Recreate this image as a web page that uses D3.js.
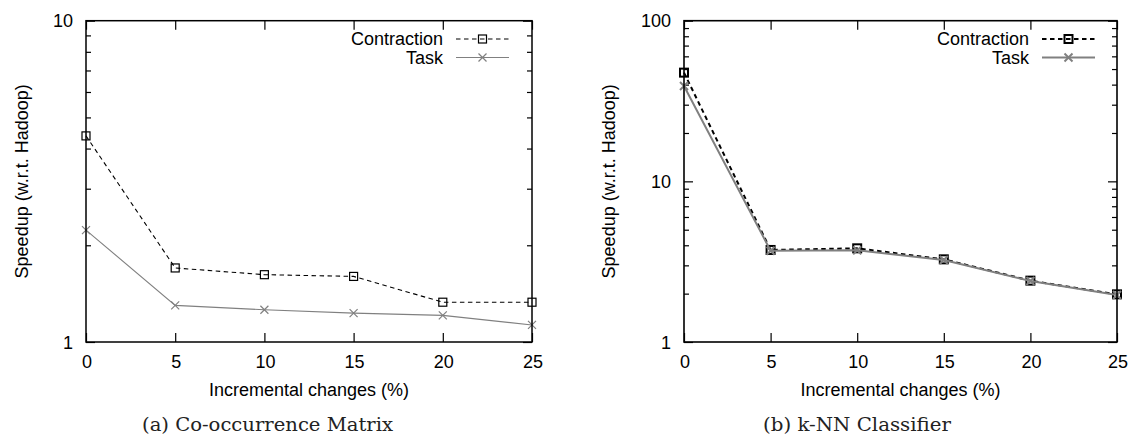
<!DOCTYPE html>
<html><head><meta charset="utf-8">
<script src="https://cdn.jsdelivr.net/npm/d3@7"></script>
<style>body{margin:0;background:#fff}svg{display:block}</style>
</head><body><svg id="c" width="1132" height="439"></svg>
<script>
// ---- data ----
const xValues = [0, 5, 10, 15, 20, 25];
const contractionA = [4.38, 1.70, 1.62, 1.60, 1.33, 1.33];
const taskA = [2.23, 1.30, 1.26, 1.23, 1.21, 1.13];
const contractionB = [47.5, 3.74, 3.83, 3.27, 2.41, 1.98];
const taskB = [39.2, 3.70, 3.72, 3.24, 2.40, 1.96];
const yTicksA = [1, 10];
const yTicksB = [1, 10, 100];
const xTicks = [0, 5, 10, 15, 20, 25];
const seriesNames = ["Contraction", "Task"];
const captions = ["(a) Co-occurrence Matrix", "(b) k-NN Classifier"];
const xTitle = "Incremental changes (%)";
const yTitle = "Speedup (w.r.t. Hadoop)";

// ---- layout ----
const panels = [
  {left: 86, right: 532, top: 20.7, bottom: 342, yMax: 10, yTicks: yTicksA,
   series: [contractionA, taskA], lw: 1.1, mlw: 1.2, frame: 1.5,
   legText: 443, legL: 456, legR: 509, yTitleX: 28,
   cap: captions[0], capX: 142, capW: 251},
  {left: 684, right: 1117, top: 20.7, bottom: 342, yMax: 100, yTicks: yTicksB,
   series: [contractionB, taskB], lw: 2, mlw: 2, frame: 1.6,
   legText: 1029, legL: 1042, legR: 1095, yTitleX: 615,
   cap: captions[1], capX: 763, capW: 188}
];
const sans = "'Liberation Sans', Arial, Helvetica, sans-serif";
const svg = d3.select("#c");
const styles = [
  {stroke: "#000", dash: "4.5,3.5", marker: "square"},
  {stroke: "#808080", dash: null, marker: "cross"}
];

function drawMarker(g, type, x, y, color, w) {
  const s = 4;
  if (type === "square") {
    g.append("rect").attr("x", x - s).attr("y", y - s).attr("width", 2*s).attr("height", 2*s)
      .attr("fill", "none").attr("stroke", color).attr("stroke-width", w);
  } else {
    g.append("path").attr("d", `M${x-s},${y-s}L${x+s},${y+s}M${x-s},${y+s}L${x+s},${y-s}`)
      .attr("stroke", color).attr("stroke-width", w).attr("fill", "none");
  }
}

panels.forEach(p => {
  const x = d3.scaleLinear().domain([0, 25]).range([p.left, p.right]);
  const y = d3.scaleLog().domain([1, p.yMax]).range([p.bottom, p.top]);
  const g = svg.append("g");

  // minor + major ticks on y (both sides)
  const minor = [];
  for (let dec = 1; dec < p.yMax; dec *= 10) for (let k = 2; k <= 9; k++) minor.push(dec * k);
  g.append("g").attr("transform", `translate(${p.left},0)`).call(d3.axisRight(y).tickValues(minor).tickSize(5).tickFormat(""));
  g.append("g").attr("transform", `translate(${p.right},0)`).call(d3.axisLeft(y).tickValues(minor).tickSize(5).tickFormat(""));
  g.append("g").attr("transform", `translate(${p.left},0)`).call(d3.axisRight(y).tickValues(p.yTicks).tickSize(9).tickFormat(""));
  g.append("g").attr("transform", `translate(${p.right},0)`).call(d3.axisLeft(y).tickValues(p.yTicks).tickSize(9).tickFormat(""));
  // x ticks bottom and top
  g.append("g").attr("transform", `translate(0,${p.bottom})`).call(d3.axisTop(x).tickValues(xTicks).tickSize(9).tickFormat(""));
  g.append("g").attr("transform", `translate(0,${p.top})`).call(d3.axisBottom(x).tickValues(xTicks).tickSize(9).tickFormat(""));
  g.selectAll(".domain").remove();
  g.selectAll(".tick line").attr("stroke", "#000").attr("stroke-width", 1.2);

  // tick labels
  g.selectAll(".ylab").data(p.yTicks).join("text")
    .attr("x", p.left - 13).attr("y", d => y(d) + 6.5)
    .attr("text-anchor", "end").attr("font-family", sans).attr("font-size", 18).text(d => d);
  g.selectAll(".xlab").data(xTicks).join("text")
    .attr("x", d => x(d) + 1).attr("y", p.bottom + 26)
    .attr("text-anchor", "middle").attr("font-family", sans).attr("font-size", 18).text(d => d);

  // titles
  g.append("text").attr("x", (p.left + p.right) / 2).attr("y", 396)
    .attr("text-anchor", "middle").attr("font-family", sans).attr("font-size", 18).text(xTitle);
  g.append("text").attr("transform", `translate(${p.yTitleX},${(p.top + p.bottom) / 2}) rotate(-90)`)
    .attr("text-anchor", "middle").attr("font-family", sans).attr("font-size", 18).text(yTitle);
  g.append("text").attr("x", p.capX).attr("y", 431)
    .attr("font-family", "'DejaVu Serif', 'Liberation Serif', serif").attr("font-size", 19)
    .attr("textLength", p.capW).attr("lengthAdjust", "spacingAndGlyphs").attr("fill", "#222").text(p.cap);

  // series
  const line = d3.line().x((d, i) => x(xValues[i])).y(d => y(d));
  p.series.forEach((vals, si) => {
    const st = styles[si];
    g.append("path").datum(vals).attr("d", line).attr("fill", "none")
      .attr("stroke", st.stroke).attr("stroke-width", p.lw)
      .attr("stroke-dasharray", st.dash);
    vals.forEach((v, i) => drawMarker(g, st.marker, x(xValues[i]), y(v), st.stroke, p.mlw));
  });

  // legend
  seriesNames.forEach((name, si) => {
    const st = styles[si];
    const ly = 39 + si * 18.5;
    g.append("text").attr("x", p.legText).attr("y", ly + 6.3).attr("text-anchor", "end")
      .attr("font-family", sans).attr("font-size", 18).text(name);
    g.append("line").attr("x1", p.legL).attr("x2", p.legR).attr("y1", ly).attr("y2", ly)
      .attr("stroke", st.stroke).attr("stroke-width", p.lw).attr("stroke-dasharray", st.dash);
    drawMarker(g, st.marker, (p.legL + p.legR) / 2, ly, st.stroke, p.mlw);
  });

  // frame
  g.append("rect").attr("x", p.left).attr("y", p.top).attr("width", p.right - p.left)
    .attr("height", p.bottom - p.top).attr("fill", "none").attr("stroke", "#000").attr("stroke-width", p.frame);
});
</script>
</body></html>
